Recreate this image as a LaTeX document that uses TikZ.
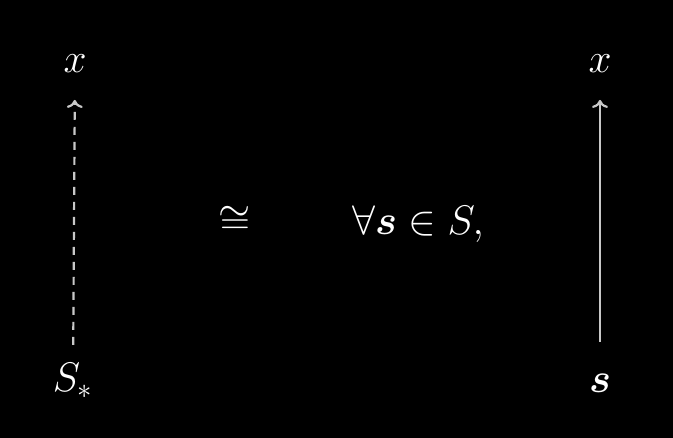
\documentclass[tikz,border=0pt]{standalone}
\usepackage{amsmath}
\usetikzlibrary{arrows.meta}
\definecolor{arrowgray}{HTML}{C8C8C8}
\begin{document}
\begin{tikzpicture}[x=0.5bp, y=-0.5bp, every node/.style={font=\fontsize{19.2}{24}\selectfont, text=white, anchor=base}]
        % Background
        \fill[black] (0,0) rectangle (673,438);
        \useasboundingbox (0,0) rectangle (673,438);
    
        % Left column
        \node (xl) at (75,73) {$x$};
        \node (Sl) at (73,392) {$S_*$};
        \draw[arrowgray, line width=1.1pt, dash pattern=on 4bp off 3.5bp, -{To[length=4pt,width=8pt]}, shorten <=6pt, shorten >=10pt] (Sl) -- (xl);
    
        % Middle
        \node (iso) at (235,234) {$\cong$};
        \node (all) at (418,235) {$\forall\boldsymbol{s}\in S,$};
    
        % Right column
        \node (xr) at (600,73) {$x$};
        \node (sr) at (600,393) {$\boldsymbol{s}$};
        \draw[arrowgray, line width=1.1pt, -{To[length=4pt,width=8pt]}, shorten <=13pt, shorten >=10pt] (sr) -- (xr);
    
    \end{tikzpicture}
\end{document}
